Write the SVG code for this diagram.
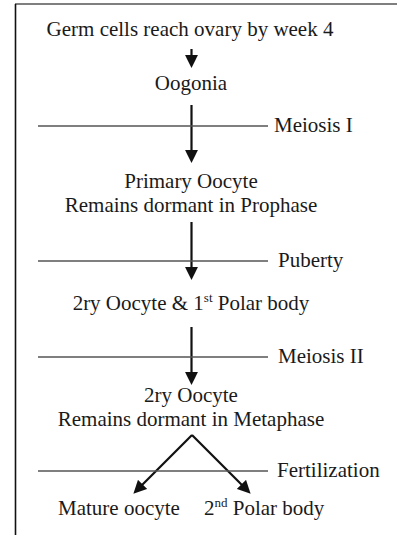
<svg xmlns="http://www.w3.org/2000/svg" width="397" height="535" viewBox="0 0 397 535">
<style>
text{font-family:"Liberation Serif","Times New Roman",serif;font-size:21px;fill:#1a1a1a}
.c{text-anchor:middle}
.sep{stroke:#555;stroke-width:1.6}
.arr{stroke:#111;stroke-width:2.2;fill:none;marker-end:url(#ah)}
.sup{font-size:13px}
</style>
<defs>
<marker id="ah" markerUnits="userSpaceOnUse" markerWidth="13" markerHeight="13" viewBox="0 0 12 12" refX="1" refY="6" orient="auto">
<path d="M0,0 L12,6 L0,12 z" fill="#111"/>
</marker>
</defs>
<g id="frame">
<line x1="15" y1="4" x2="397" y2="4" stroke="#555" stroke-width="1.6"/>
<line x1="15.5" y1="4" x2="15.5" y2="535" stroke="#111" stroke-width="1.6"/>
</g>
<g id="connectors">
<line class="arr" x1="191.5" y1="49" x2="191.5" y2="56"/>
<line class="arr" x1="191.5" y1="105" x2="191.5" y2="151"/>
<line class="arr" x1="191.5" y1="222" x2="191.5" y2="268"/>
<line class="arr" x1="191.5" y1="327" x2="191.5" y2="373"/>
<line class="arr" x1="192" y1="435" x2="141.8" y2="485.2"/>
<line class="arr" x1="192" y1="435" x2="242.2" y2="485.2"/>
</g>
<g id="stage-lines">
<g id="meiosis1"><line class="sep" x1="38" y1="126" x2="268" y2="126"/><text x="274" y="132">Meiosis I</text></g>
<g id="puberty"><line class="sep" x1="38" y1="261" x2="268" y2="261"/><text x="278" y="267">Puberty</text></g>
<g id="meiosis2"><line class="sep" x1="38" y1="357" x2="268" y2="357"/><text x="278" y="363">Meiosis II</text></g>
<g id="fertilization"><line class="sep" x1="38" y1="471" x2="268" y2="471"/><text x="277" y="477">Fertilization</text></g>
</g>
<g id="germ"><text class="c" x="190" y="36">Germ cells reach ovary by week 4</text></g>
<g id="oogonia"><text class="c" x="191" y="90">Oogonia</text></g>
<g id="primary"><text class="c" x="191" y="188">Primary Oocyte</text><text class="c" x="191" y="212">Remains dormant in Prophase</text></g>
<g id="secondary"><text class="c" x="191" y="310">2ry Oocyte &amp; 1<tspan class="sup" dy="-8">st</tspan><tspan dy="8"> Polar body</tspan></text></g>
<g id="secondary2"><text class="c" x="191" y="402">2ry Oocyte</text><text class="c" x="191" y="426">Remains dormant in Metaphase</text></g>
<g id="mature"><text x="58" y="515">Mature oocyte</text></g>
<g id="polar2"><text x="204" y="515">2<tspan class="sup" dy="-8">nd</tspan><tspan dy="8"> Polar body</tspan></text></g>
</svg>
